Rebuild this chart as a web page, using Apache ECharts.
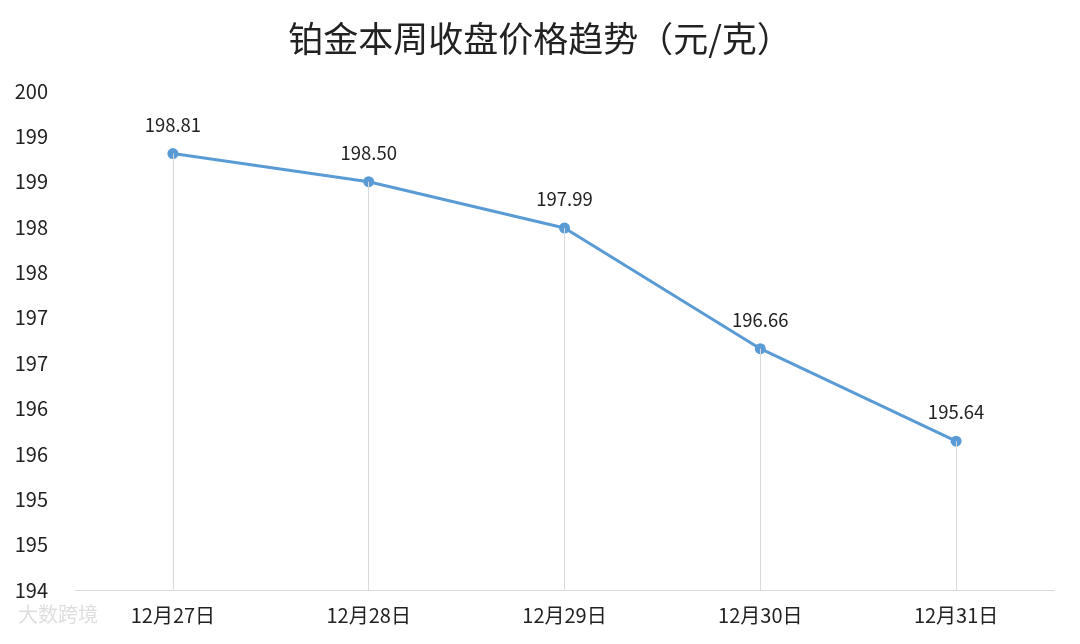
<!DOCTYPE html>
<html><head><meta charset="utf-8">
<script src="https://cdn.jsdelivr.net/npm/echarts@6/dist/echarts.min.js"></script>
<style>html,body{margin:0;padding:0;background:#fff}#c{width:1080px;height:644px}</style>
</head><body><div id="c"></div>
<script>
const categories = ['12月27日','12月28日','12月29日','12月30日','12月31日'];
const prices = [198.81, 198.50, 197.99, 196.66, 195.64];
const yMin = 194, yMax = 199.5, yStep = 0.5;
const title = '铂金本周收盘价格趋势（元/克）';

const font = '"Noto Sans CJK SC", "Noto Sans", sans-serif';
const chart = echarts.init(document.getElementById('c'));
chart.setOption({
  backgroundColor: '#fff',
  animation: false,
  title: { text: title, left: 'center', top: 16,
    textStyle: { fontFamily: font, fontSize: 35, fontWeight: 'normal', color: '#222' } },
  graphic: [{ type: 'text', left: 18, top: 604,
    style: { text: '大数跨境', fontFamily: font, fontSize: 20, fill: 'rgba(200,200,200,0.6)' } }],
  grid: { left: 75, right: 26, top: 91, bottom: 54 },
  xAxis: { type: 'category', data: categories, boundaryGap: true,
    axisLine: { lineStyle: { color: '#d9d9d9', width: 1 } },
    axisTick: { show: false },
    axisLabel: { fontFamily: font, fontSize: 20, color: '#222', margin: 15 } },
  yAxis: { type: 'value', min: yMin, max: yMax, interval: yStep,
    splitLine: { show: false }, axisLine: { show: false }, axisTick: { show: false },
    axisLabel: { fontFamily: font, fontSize: 20, color: '#222', margin: 27,
      formatter: v => String(Math.round(v)) } },
  series: [{
    type: 'line', data: prices, symbol: 'circle', symbolSize: 11,
    lineStyle: { color: '#5B9BD5', width: 3 },
    itemStyle: { color: '#5B9BD5' },
    label: { show: true, position: 'top', distance: 14, fontFamily: font, fontSize: 18.5, color: '#222',
      formatter: p => p.value.toFixed(2) },
    markLine: { silent: true, symbol: 'none', label: { show: false },
      lineStyle: { color: '#d9d9d9', width: 1, type: 'solid' },
      data: prices.map((v, i) => [{ coord: [i, yMin] }, { coord: [i, v] }]) },
    z: 3
  }]
});
</script></body></html>
